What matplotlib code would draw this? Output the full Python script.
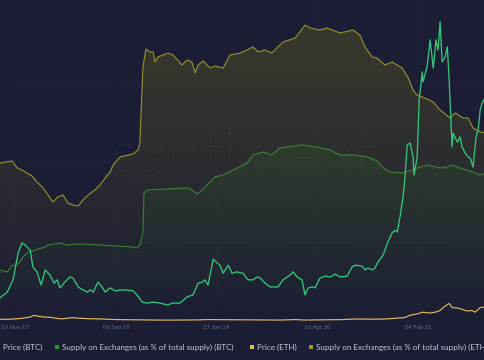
import numpy as np
import pandas as pd
import matplotlib
matplotlib.use("Agg")
import matplotlib.pyplot as plt
import matplotlib.dates as mdates
from matplotlib.colors import to_rgb
from matplotlib.patches import Rectangle

# ---------------- data ----------------
btc_price_dates = ["2017-10-03","2017-10-24","2017-11-10","2017-11-25","2017-12-06","2017-12-15","2017-12-24","2017-12-30",
    "2018-01-07","2018-01-19","2018-01-31","2018-02-12","2018-02-26","2018-03-10","2018-03-19","2018-03-27","2018-04-11",
    "2018-04-25","2018-05-04","2018-05-19","2018-06-02","2018-06-14","2018-06-23","2018-07-02","2018-07-16","2018-07-28",
    "2018-08-06","2018-08-20","2018-09-04","2018-09-27","2018-10-26","2018-11-07","2018-11-22","2018-12-06","2018-12-24",
    "2019-01-13","2019-02-03","2019-02-20","2019-03-12","2019-04-02","2019-04-19","2019-05-04","2019-05-16","2019-05-24",
    "2019-06-02","2019-06-17","2019-06-28","2019-07-07","2019-07-16","2019-07-31","2019-08-11","2019-08-26","2019-09-04",
    "2019-09-12","2019-09-27","2019-10-11","2019-10-23","2019-11-01","2019-11-15","2019-11-30","2019-12-23","2020-01-07",
    "2020-01-27","2020-02-05","2020-02-17","2020-03-02","2020-03-11","2020-03-20","2020-04-01","2020-04-09","2020-04-24",
    "2020-05-09","2020-05-23","2020-06-07","2020-06-21","2020-07-12","2020-07-26","2020-08-04","2020-08-25","2020-09-02",
    "2020-09-11","2020-09-23","2020-10-01","2020-10-10","2020-10-25","2020-11-08","2020-11-20","2020-11-29","2020-12-05",
    "2020-12-13","2020-12-22","2020-12-28","2021-01-03","2021-01-12","2021-01-20","2021-01-23","2021-02-01","2021-02-07",
    "2021-02-16","2021-02-18","2021-03-02","2021-03-11","2021-03-20","2021-03-28","2021-04-03","2021-04-09","2021-04-15",
    "2021-04-24","2021-04-30","2021-05-05","2021-05-14","2021-05-17","2021-05-29","2021-06-06","2021-06-12","2021-06-21",
    "2021-06-30","2021-07-06","2021-07-14","2021-07-23","2021-07-29","2021-08-04","2021-08-10","2021-08-18"]
btc_price = [5.1,6.3,8.9,14.6,16.7,16.3,15.6,15.2,
    11.6,10.6,7.8,11.0,9.9,8.2,8.9,7.2,8.5,
    9.5,9.3,7.4,6.8,6.3,6.8,6.3,8.4,7.4,
    6.3,7.2,6.6,6.8,6.6,5.7,4.2,4.0,4.2,
    4.0,3.6,4.0,4.0,5.3,5.7,8.2,8.4,8.9,
    7.8,13.3,12.5,12.0,10.3,12.0,10.3,10.6,10.4,
    10.3,8.9,8.9,9.5,9.3,8.2,7.4,7.4,8.9,
    9.9,10.6,9.5,8.9,5.7,7.2,7.4,7.2,9.3,
    9.7,9.5,10.1,9.5,9.7,11.6,12.0,11.8,11.0,
    11.4,11.0,11.4,12.7,14.2,16.9,18.8,19.4,19.0,
    22.2,26.4,31.0,37.4,37.8,34.8,31.0,34.8,46.9,
    52.8,50.7,53.9,59.6,53.6,59.6,57.4,63.4,54.9,
    56.0,58.1,51.7,37.0,39.9,38.0,39.1,37.0,35.7,
    34.8,34.6,32.7,39.1,40.6,44.8,46.3,47.3]

btc_supply_dates = ["2017-10-03","2017-10-24","2017-11-07","2017-11-16","2017-11-30","2017-12-09","2017-12-24","2018-01-07",
    "2018-01-22","2018-02-02","2018-02-12","2018-02-20","2018-03-13","2018-03-27","2018-04-16","2018-05-25","2018-07-22",
    "2018-09-10","2018-10-26","2018-11-07","2018-11-15","2018-11-24","2018-11-27","2018-12-06","2019-02-03","2019-04-02",
    "2019-04-16","2019-05-01","2019-05-10","2019-05-24","2019-06-08","2019-06-22","2019-07-16","2019-08-26","2019-09-24",
    "2019-10-11","2019-11-09","2019-12-05","2019-12-28","2020-02-05","2020-03-05","2020-04-15","2020-05-23","2020-06-21",
    "2020-07-29","2020-09-08","2020-10-07","2020-10-25","2020-11-14","2020-12-22","2021-02-01","2021-03-02","2021-04-09",
    "2021-04-30","2021-05-14","2021-06-06","2021-07-14","2021-08-04","2021-08-18"]
btc_supply = [10.08,10.0,10.28,10.24,10.4,10.6,10.8,10.84,
    10.92,10.96,11.0,11.08,11.12,11.16,11.08,11.12,11.08,
    11.04,11.0,10.96,11.08,11.56,13.16,13.28,13.32,13.36,
    13.28,13.12,13.2,13.4,13.6,13.8,13.88,14.16,14.36,
    14.68,14.8,14.68,14.96,15.04,15.08,15.0,14.88,14.68,
    14.68,14.6,14.44,14.16,14.0,13.96,14.16,14.28,14.16,
    14.2,14.28,14.16,14.0,13.88,13.96]

eth_price_dates = ["2017-10-03","2017-11-07","2017-12-06","2017-12-30","2018-01-10","2018-01-22","2018-02-08","2018-02-26",
    "2018-03-16","2018-04-02","2018-04-19","2018-05-04","2018-05-25","2018-06-23","2018-07-22","2018-09-04","2018-11-15",
    "2018-12-29","2019-02-11","2019-04-25","2019-06-08","2019-07-21","2019-10-03","2019-12-29","2020-02-11","2020-03-11",
    "2020-05-09","2020-06-21","2020-08-04","2020-09-23","2020-10-30","2020-11-29","2020-12-28","2021-01-12","2021-02-01",
    "2021-02-18","2021-03-11","2021-03-25","2021-04-09","2021-04-18","2021-05-05","2021-05-14","2021-05-31","2021-06-15",
    "2021-06-27","2021-07-11","2021-07-20","2021-08-04","2021-08-18"]
eth_price = [0.30,0.35,0.55,0.85,1.25,1.05,0.85,0.80,
    0.55,0.40,0.60,0.70,0.55,0.45,0.40,0.25,0.18,
    0.13,0.12,0.16,0.25,0.22,0.18,0.13,0.25,0.13,
    0.20,0.23,0.38,0.35,0.38,0.55,0.75,1.3,1.6,
    2.0,1.8,2.0,2.4,3.1,4.1,3.1,3.0,2.6,
    2.3,2.4,2.0,3.1,3.3]

eth_supply_dates = ["2017-10-03","2017-11-07","2017-11-22","2017-12-06","2017-12-21","2018-01-04","2018-01-19","2018-02-06",
    "2018-02-26","2018-03-07","2018-03-21","2018-04-05","2018-04-19","2018-05-04","2018-05-19","2018-06-02","2018-06-17",
    "2018-07-07","2018-07-22","2018-08-06","2018-08-20","2018-08-29","2018-09-18","2018-10-26","2018-11-10","2018-11-15",
    "2018-11-24","2018-12-03","2018-12-14","2018-12-24","2018-12-29","2019-01-07","2019-02-05","2019-02-20","2019-03-18",
    "2019-04-02","2019-04-16","2019-04-25","2019-05-04","2019-05-19","2019-06-08","2019-06-22","2019-07-16","2019-08-05",
    "2019-09-04","2019-09-24","2019-10-11","2019-10-26","2019-11-15","2019-12-05","2020-01-07","2020-02-11","2020-03-11",
    "2020-03-26","2020-04-24","2020-05-14","2020-06-21","2020-07-29","2020-08-18","2020-09-02","2020-09-23","2020-10-07",
    "2020-10-30","2020-11-20","2020-12-19","2021-01-05","2021-01-20","2021-02-01","2021-03-02","2021-03-20","2021-04-09",
    "2021-05-08","2021-05-23","2021-06-15","2021-06-30","2021-07-14","2021-08-04","2021-08-18"]
eth_supply = [14.54,14.66,14.24,14.12,13.94,13.76,13.4,13.04,
    12.44,12.2,12.5,12.62,12.14,12.02,11.96,12.32,12.62,
    12.92,13.22,13.64,14.0,14.42,14.9,15.08,15.32,15.74,
    20.3,21.38,21.2,21.2,20.6,20.9,21.14,21.02,20.42,
    20.72,20.6,19.94,20.42,20.66,20.24,20.36,20.24,21.02,
    21.14,21.32,21.5,21.2,21.32,21.14,21.8,22.04,22.82,
    22.64,22.52,22.64,22.34,22.52,22.22,21.5,20.9,20.84,
    20.42,20.6,20.24,19.7,18.92,18.62,18.38,18.2,17.72,
    17.24,17.54,17.24,17.24,16.64,16.4,16.34]

tick_dates = ["2017-11-16", "2018-09-06", "2019-06-27", "2020-04-16", "2021-02-04"]
legend_labels = ["Price (BTC)", "Supply on Exchanges (as % of total supply) (BTC)",
                 "Price (ETH)", "Supply on Exchanges (as % of total supply) (ETH)"]

# ---------------- style ----------------
BG = "#1b1d35"
C_BTC_PRICE = "#30c777"
C_BTC_SUP = "#377f33"
C_ETH_PRICE = "#e3b85c"
C_ETH_SUP = "#918e2e"

W, H = 485, 360
fig = plt.figure(figsize=(W / 100, H / 100), dpi=100, facecolor=BG)
ax = fig.add_axes([0, (H - 322) / H, 1, 322 / H])
ax.set_facecolor(BG)
for s in ax.spines.values():
    s.set_visible(False)

xmin, xmax = pd.Timestamp("2017-10-03"), pd.Timestamp("2021-08-18")
ax.set_xlim(xmin, xmax)
ax.set_ylim(0, 1)
ax.set_yticks([0.25, 0.5, 0.75])
ax.tick_params(axis="y", left=False, labelleft=False)
ax.set_xticks(pd.to_datetime(tick_dates))
ax.set_xticklabels([pd.Timestamp(d).strftime("%d %b %y") for d in tick_dates])
ax.tick_params(axis="x", length=0, pad=2.2, labelsize=4.3, labelcolor="#686b80")
for lab in ax.get_xticklabels():
    lab.set_family("Lato")
ax.grid(True, color="#ffffff", alpha=0.05, lw=0.6, ls=(0, (2, 3)))


def twin(ylim):
    t = ax.twinx()
    t.set_ylim(*ylim)
    t.set_xlim(xmin, xmax)
    t.axis("off")
    return t


def gradient_area(t, dates, vals, color, a_top, a_bot, ybot, ytop):
    xs = mdates.date2num(pd.to_datetime(dates))
    poly = t.fill_between(xs, vals, ybot, facecolor="none", edgecolor="none")
    z = np.zeros((256, 1, 4))
    z[..., :3] = to_rgb(color)
    z[:, 0, 3] = np.linspace(a_bot, a_top, 256)
    im = t.imshow(z, aspect="auto", extent=[xs.min(), xs.max(), ybot, ytop],
                  origin="lower", interpolation="bilinear")
    im.set_clip_path(poly.get_paths()[0], transform=t.transData)
    t.set_xlim(xmin, xmax)


t_eth_sup = twin((5, 24.32))
gradient_area(t_eth_sup, eth_supply_dates, eth_supply, "#7a7418", 0.32, 0.0, 5, max(eth_supply))
t_eth_sup.plot(pd.to_datetime(eth_supply_dates), eth_supply, color=C_ETH_SUP, lw=0.85)
t_eth_sup.set_ylim(5, 24.32)

t_btc_sup = twin((8, 20.88))
gradient_area(t_btc_sup, btc_supply_dates, btc_supply, "#3c8a26", 0.15, 0.0, 8, max(btc_supply))
t_btc_sup.plot(pd.to_datetime(btc_supply_dates), btc_supply, color=C_BTC_SUP, lw=0.85)
t_btc_sup.set_ylim(8, 20.88)

t_eth_p = twin((-0.33, 76.3))
t_eth_p.plot(pd.to_datetime(eth_price_dates), eth_price, color=C_ETH_PRICE, lw=0.85)

t_btc_p = twin((0, 68))
t_btc_p.plot(pd.to_datetime(btc_price_dates), btc_price, color=C_BTC_PRICE, lw=0.95)

# watermark
fig.text(237 / W, 1 - 175 / H, ".santiment", ha="center", va="baseline", fontsize=46,
         family="Lato", weight="light", color="#ffffff", alpha=0.045)

# legend (manual, partially clipped like the reference)
ly = 1 - 347 / H
items = [(None, 3, legend_labels[0]),
         ("#1f9e3c", 62, legend_labels[1]),
         (C_ETH_PRICE, 257, legend_labels[2]),
         ("#9a9827", 316, legend_labels[3])]
for col, xt, lab in items:
    if col is not None:
        fig.patches.append(Rectangle(((xt - 7) / W, ly - 2 / H), 4 / W, 4 / H,
                                     transform=fig.transFigure, facecolor=col, edgecolor="none"))
    fig.text(xt / W, ly, lab, ha="left", va="center", fontsize=5.8, family="Lato",
             color="#c8c9d3")

fig.savefig("out.png", dpi=100, facecolor=BG)
